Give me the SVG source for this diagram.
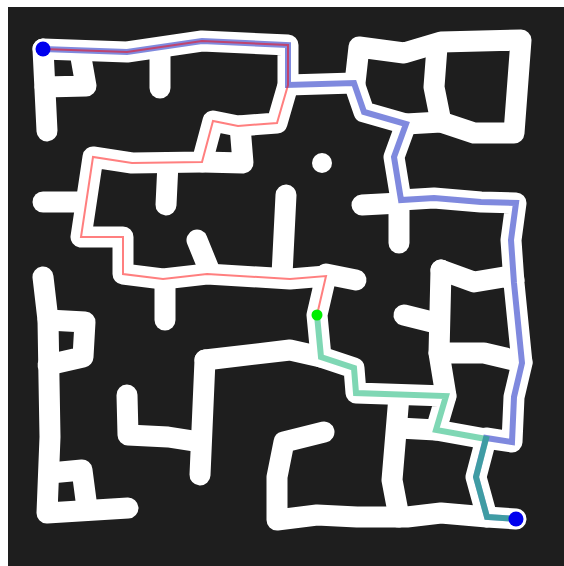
<svg xmlns="http://www.w3.org/2000/svg" width="564" height="566" viewBox="0 0 564 566">
<style>
.w{fill:none;stroke:#ffffff;stroke-width:21;stroke-linecap:round;stroke-linejoin:round}
.b{fill:none;stroke:rgb(0,20,190);stroke-opacity:0.5;stroke-width:6;stroke-linejoin:miter}
.r{fill:none;stroke:#ff0000;stroke-opacity:0.5;stroke-width:2}
.g{fill:none;stroke:rgb(0,175,105);stroke-opacity:0.5;stroke-width:6}
</style>
<rect x="0" y="0" width="564" height="566" fill="#ffffff"/>
<rect x="8" y="7" width="556" height="559" fill="#1e1e1e"/>
<g id="maze">
<polyline class="w" points="43,49 127,52 202,41 288,45 288,85 277,123 238,126 213,121 202,162 132,163 93,157 81,237 123,237 123,274 163,279 207,274 290,279 326,276 317,315 321,357 354,368 356,393 446,396 436,430 486,439 476,477 487,517 516,519"/>
<polyline class="w" points="288,85 354,83 364,112 406,124 394,157 401,200 434,198 481,202 516,203 511,240 514,283 522,363 514,397 512,442 486,438"/>
<polyline class="w" points="43,49 47,131"/>
<polyline class="w" points="45,87 86,86 80,52"/>
<polyline class="w" points="160,50 160,88"/>
<polyline class="w" points="240,126 243,163 203,162"/>
<polyline class="w" points="168,163 166,205"/>
<polyline class="w" points="43,202 82,202"/>
<polyline class="w" points="197,240 208,267"/>
<polyline class="w" points="165,280 165,320"/>
<polyline class="w" points="286,195 282,275"/>
<polyline class="w" points="326,274 356,280"/>
<polyline class="w" points="43,277 48,320 49,380 50,437 47,513 128,508"/>
<polyline class="w" points="48,320 85,322 83,357 48,365"/>
<polyline class="w" points="50,473 82,470 87,508"/>
<polyline class="w" points="205,360 290,350 321,357"/>
<polyline class="w" points="205,360 200,475"/>
<polyline class="w" points="127,395 128,435 168,437 200,442"/>
<polyline class="w" points="355,83 359,47 404,53 441,42 521,40 514,133 474,133 441,122 406,124"/>
<polyline class="w" points="437,47 434,87 441,122"/>
<circle cx="322" cy="163" r="10" fill="#ffffff"/>
<polyline class="w" points="362,205 400,203"/>
<polyline class="w" points="399,203 399,243"/>
<polyline class="w" points="441,270 474,282 504,277 514,280"/>
<polyline class="w" points="441,270 439,353 446,396"/>
<polyline class="w" points="404,315 432,322"/>
<polyline class="w" points="439,353 484,353 522,362"/>
<polyline class="w" points="399,396 392,480 399,517"/>
<polyline class="w" points="399,428 436,430"/>
<polyline class="w" points="324,432 284,442 277,477 277,520 317,515 357,517 407,517 441,513 487,517"/>
</g>
<g id="connectors">
<polyline class="b" points="43,49 127,52 202,41 288,45 288,85 354,83 364,112 406,124 394,157 401,200 434,198 481,202 516,203 511,240 514,283 522,363 514,397 512,442 486,438 476,477 487,517 516,519"/>
<polyline class="r" points="43,49 127,52 202,41 288,45 288,85 277,123 238,126 213,121 202,162 132,163 93,157 81,237 123,237 123,274 163,279 207,274 290,279 326,276 317,315"/>
<polyline class="g" points="317,315 321,357 354,368 356,393 446,396 436,430 486,439 476,477 487,517 516,519"/>
</g>
<g id="start"><circle cx="43" cy="49" r="7.5" fill="#0000ee"/></g>
<g id="end"><circle cx="516" cy="519" r="7.5" fill="#0000ee"/></g>
<g id="mid"><circle cx="317" cy="315" r="5.5" fill="#00ee00"/></g>
</svg>
